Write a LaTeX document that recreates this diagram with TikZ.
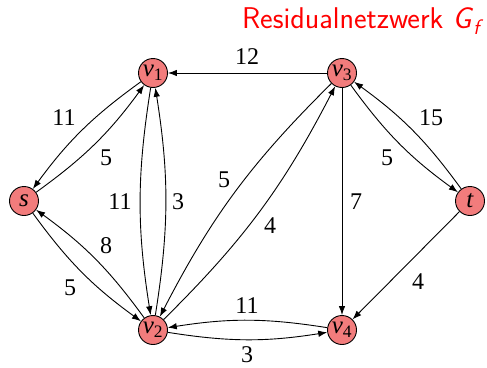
\documentclass[tikz,border=0pt]{standalone}
\usepackage{fontspec}
\setmainfont{Liberation Serif}
\setsansfont{Latin Modern Sans}
\usetikzlibrary{arrows.meta}
\definecolor{nodefill}{RGB}{242,124,124}
\begin{document}
\begin{tikzpicture}[x=1pt,y=1pt,
  vtx/.style={circle,draw,line width=0.9pt,fill=nodefill,minimum size=29pt,inner sep=0pt,
    font=\fontsize{25}{25}\selectfont},
  e/.style={line width=0.9pt,-{Latex[length=9pt,width=6.5pt]}},
  br/.style={bend right=9},
  lab/.style={font=\fontsize{24}{24}\selectfont,inner sep=0pt}]
\useasboundingbox (0,0) rectangle (487,-367);
\node[anchor=base east,text=red,font=\sffamily\fontsize{30}{30}\selectfont,inner sep=0pt] (title) at (484,-28) {Residualnetzwerk \textit{G}\textsubscript{\textit{f}}};
\node[vtx] (s) at (24,-201) {\textit{s}};
\node[vtx] (v1) at (153,-73) {\textit{v}\textsubscript{1}};
\node[vtx] (v3) at (342,-73) {\textit{v}\textsubscript{3}};
\node[vtx] (t) at (470,-201) {\textit{t}};
\node[vtx] (v2) at (153,-330) {\textit{v}\textsubscript{2}};
\node[vtx] (v4) at (342,-330) {\textit{v}\textsubscript{4}};
\draw[e] (v3) -- (v1);
\draw[e] (v3) -- (v4);
\draw[e] (t) -- (v4);
\draw[e] (v1) to[br] (s);
\draw[e] (s) to[br] (v1);
\draw[e] (v1) to[br] (v2);
\draw[e] (v2) to[br] (v1);
\draw[e] (v3) to[br] (v2);
\draw[e] (v2) to[br] (v3);
\draw[e] (v3) to[br] (t);
\draw[e] (t) to[br] (v3);
\draw[e] (s) to[br] (v2);
\draw[e] (v2) to[br] (s);
\draw[e] (v4) to[br] (v2);
\draw[e] (v2) to[br] (v4);
\node[lab] (l12) at (247,-57) {12};
\node[lab] (l11a) at (64,-118) {11};
\node[lab] (l5a) at (106,-158) {5};
\node[lab] (l11b) at (120,-202) {11};
\node[lab] (l3a) at (178,-202) {3};
\node[lab] (l5b) at (224,-180) {5};
\node[lab] (l4a) at (270,-226) {4};
\node[lab] (l7) at (356,-202) {7};
\node[lab] (l15) at (431,-118) {15};
\node[lab] (l5c) at (387,-158) {5};
\node[lab] (l8) at (106,-246) {8};
\node[lab] (l5d) at (70,-288) {5};
\node[lab] (l11c) at (247,-306) {11};
\node[lab] (l3b) at (247,-355) {3};
\node[lab] (l4b) at (418,-282) {4};
\end{tikzpicture}
\end{document}
